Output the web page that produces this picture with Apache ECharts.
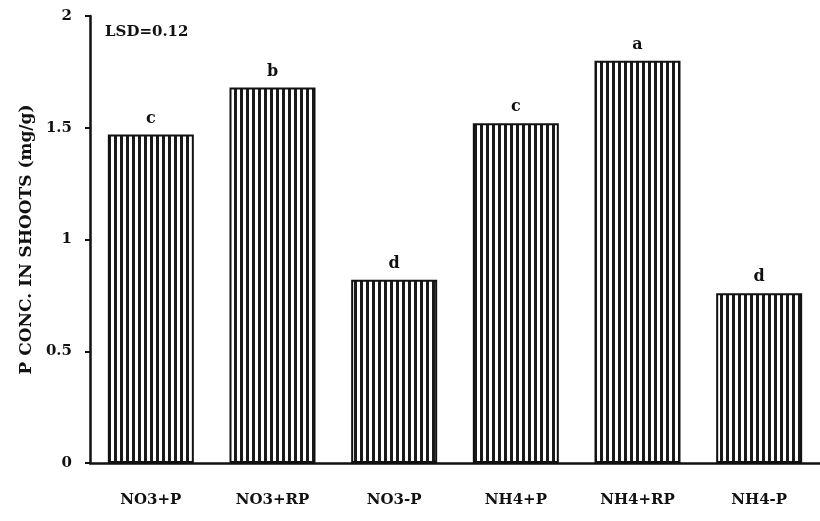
<!DOCTYPE html>
<html><head><meta charset="utf-8">
<script src="https://cdn.jsdelivr.net/npm/echarts@6/dist/echarts.min.js"></script>
<style>html,body{margin:0;padding:0;background:#fff}#c{width:820px;height:521px}</style>
</head><body><div id="c"></div>
<script>
const categories = ['NO3+P','NO3+RP','NO3-P','NH4+P','NH4+RP','NH4-P'];
const values = [1.47, 1.68, 0.82, 1.52, 1.80, 0.76];
const letters = ['c','b','d','c','a','d'];
const yTicks = [0, 0.5, 1, 1.5, 2];

const pc = document.createElement('canvas');
pc.width = 6; pc.height = 10;
const g = pc.getContext('2d');
g.fillStyle = '#fff'; g.fillRect(0,0,6,10);
g.fillStyle = '#1a1a1a'; g.fillRect(0,0,3,10);

const font = '"DejaVu Serif", "Liberation Serif", serif';
const chart = echarts.init(document.getElementById('c'));
chart.setOption({
  animation:false,
  grid:{left:90, right:-4, top:16, bottom:58},
  graphic:[{type:'text', left:105, top:25, style:{text:'LSD=0.12', font:'bold 15px '+font, fill:'#111'}}],
  xAxis:{type:'category', data:categories,
    axisLine:{lineStyle:{color:'#111', width:2.5}},
    axisTick:{show:false},
    axisLabel:{margin:30, color:'#111', fontFamily:font, fontWeight:'bold', fontSize:15}},
  yAxis:{type:'value', min:0, max:2, interval:0.5,
    name:'P CONC. IN SHOOTS (mg/g)', nameLocation:'middle', nameGap:46,
    nameTextStyle:{fontFamily:font, fontWeight:'bold', fontSize:17, color:'#111'},
    axisLine:{show:true, lineStyle:{color:'#111', width:2.5}},
    axisTick:{show:true, length:5, lineStyle:{color:'#111', width:2}},
    splitLine:{show:false},
    axisLabel:{margin:18, color:'#111', fontFamily:font, fontWeight:'bold', fontSize:15,
      formatter:v=>yTicks.includes(v)?String(v):''}},
  series:[{type:'bar', data:values, barWidth:86,
    itemStyle:{color:{image:pc, repeat:'repeat'}, borderColor:'#111', borderWidth:2},
    label:{show:true, position:'top', distance:8, formatter:p=>letters[p.dataIndex],
      fontFamily:font, fontWeight:'bold', fontSize:16, color:'#111'}}]
});
</script></body></html>
